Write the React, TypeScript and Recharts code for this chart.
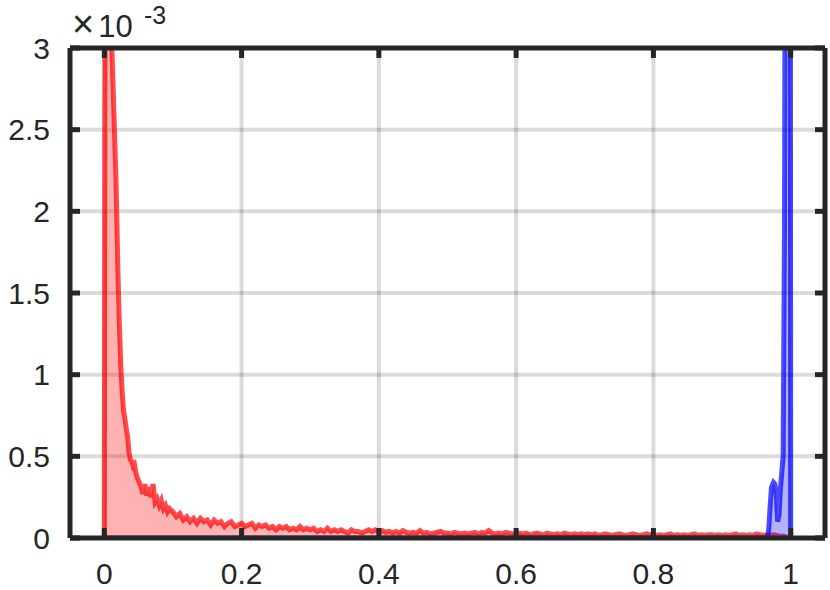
import React from 'react';
import { ComposedChart, Area, XAxis, YAxis, CartesianGrid, ReferenceLine } from 'recharts';

// values in units of 1e-3
const redHeadX = [0, 0.002, 0.005, 0.008, 0.011, 0.014, 0.017, 0.02, 0.022, 0.024, 0.026, 0.028, 0.03, 0.032, 0.034, 0.036, 0.038, 0.04, 0.042, 0.044, 0.046, 0.048, 0.05, 0.053, 0.056, 0.059, 0.062, 0.065, 0.068, 0.071, 0.074, 0.077, 0.08, 0.083, 0.086, 0.089, 0.092, 0.095];
const redHeadY = [0, 6.5, 5.8, 4.2, 3.0, 2.6, 2.2, 1.6, 1.3, 1.05, 0.9, 0.78, 0.73, 0.67, 0.62, 0.52, 0.48, 0.47, 0.44, 0.45, 0.4, 0.37, 0.35, 0.32, 0.27, 0.33, 0.26, 0.31, 0.25, 0.33, 0.22, 0.24, 0.2, 0.23, 0.18, 0.2, 0.16, 0.18];

const redTailStart = 0.1;
const redTailStep = 0.005;
const redTailY = [
  0.16, 0.13, 0.15, 0.11, 0.13, 0.10, 0.12, 0.09, 0.12, 0.10, 0.11, 0.08, 0.11, 0.09, 0.10, 0.07, 0.09, 0.10, 0.07, 0.08,
  0.09, 0.07, 0.08, 0.09, 0.06, 0.08, 0.07, 0.08, 0.06, 0.07, 0.05, 0.07, 0.06, 0.07, 0.05, 0.06, 0.05, 0.07, 0.05, 0.06,
  0.05, 0.06, 0.04, 0.05, 0.04, 0.06, 0.04, 0.05, 0.04, 0.05, 0.04, 0.03, 0.05, 0.04, 0.04, 0.03, 0.04, 0.05, 0.04, 0.05,
  0.04, 0.045, 0.035, 0.04, 0.03, 0.04, 0.03, 0.045, 0.035, 0.03, 0.035, 0.03, 0.045, 0.03, 0.035, 0.025, 0.03, 0.035, 0.04, 0.03,
  0.03, 0.025, 0.035, 0.03, 0.025, 0.03, 0.025, 0.03, 0.035, 0.025, 0.035, 0.03, 0.045, 0.03, 0.025, 0.03, 0.025, 0.035, 0.03, 0.025,
  0.02, 0.03, 0.025, 0.03, 0.02, 0.025, 0.03, 0.025, 0.02, 0.03, 0.025, 0.02, 0.025, 0.02, 0.03, 0.025, 0.02, 0.025, 0.02, 0.025,
  0.02, 0.025, 0.02, 0.025, 0.015, 0.02, 0.025, 0.02, 0.015, 0.02, 0.025, 0.02, 0.015, 0.02, 0.025, 0.02, 0.015, 0.02, 0.025, 0.02,
  0.02, 0.015, 0.02, 0.015, 0.02, 0.025, 0.015, 0.02, 0.015, 0.02, 0.015, 0.02, 0.025, 0.015, 0.02, 0.015, 0.02, 0.02, 0.015, 0.02,
  0.015, 0.02, 0.015, 0.02, 0.025, 0.015, 0.02, 0.015, 0.02, 0.015, 0.025, 0.02, 0.015, 0.02, 0.015, 0.02, 0.015, 0.01, 0.01, 0.005,
];

const blueX = [0, 0.966, 0.968, 0.97, 0.972, 0.975, 0.977, 0.979, 0.981, 0.983, 0.985, 0.987, 0.989, 0.991, 0.993, 0.996, 0.999, 1.0];
const blueY = [0, 0, 0.05, 0.19, 0.31, 0.34, 0.33, 0.27, 0.1, 0.14, 0.3, 0.4, 0.5, 1.9, 6, 8, 8, 0];

const xTicks = [0, 0.2, 0.4, 0.6, 0.8, 1];
const yTicks = [0, 0.5, 1, 1.5, 2, 2.5, 3];
const xTickLabels = ['0', '0.2', '0.4', '0.6', '0.8', '1'];
const yTickLabels = ['0', '0.5', '1', '1.5', '2', '2.5', '3'];

const X_DOMAIN: [number, number] = [-0.05, 1.05];
const Y_DOMAIN: [number, number] = [0, 3];
// inward tick length expressed in axis units (~10 px)
const TICK_DX = 0.0146;
const TICK_DY = 0.061;

const redData = [
  ...redHeadX.map((x, i) => ({ x, y: redHeadY[i] })),
  ...redTailY.map((y, i) => ({ x: +(redTailStart + i * redTailStep).toFixed(4), y })),
];
const blueData = blueX.map((x, i) => ({ x, y: blueY[i] }));

const FONT = '"Liberation Sans", Arial, Helvetica, sans-serif';
const INK = '#262626';

export default function App() {
  return (
    <div style={{ position: 'absolute', left: 0, top: 0, width: 830, height: 590, background: '#fff' }}>
      <ComposedChart
        width={830}
        height={590}
        margin={{ top: 47, right: 4, bottom: 0, left: 0 }}
      >
        <Area
          data={redData}
          dataKey="y"
          type="linear"
          stroke="#ff0000"
          strokeOpacity={0.7}
          strokeWidth={5}
          fill="#ff0000"
          fillOpacity={0.3}
          dot={false}
          activeDot={false}
          isAnimationActive={false}
          baseValue={0}
        />
        <Area
          data={blueData}
          dataKey="y"
          type="linear"
          stroke="#0000ff"
          strokeOpacity={0.7}
          strokeWidth={5}
          fill="#0000ff"
          fillOpacity={0.3}
          dot={false}
          activeDot={false}
          isAnimationActive={false}
          baseValue={0}
        />
        <CartesianGrid
          stroke="#000000"
          strokeOpacity={0.14}
          strokeWidth={4}
          horizontalValues={yTicks}
          verticalValues={xTicks}
        />
        {yTicks.map((v) => (
          <ReferenceLine
            key={`r${v}`}
            segment={[{ x: X_DOMAIN[1] - TICK_DX, y: v }, { x: X_DOMAIN[1], y: v }]}
            stroke={INK}
            strokeWidth={5}
          />
        ))}
        {xTicks.map((v) => (
          <ReferenceLine
            key={`t${v}`}
            segment={[{ x: v, y: Y_DOMAIN[1] }, { x: v, y: Y_DOMAIN[1] - TICK_DY }]}
            stroke={INK}
            strokeWidth={5}
          />
        ))}
        <XAxis
          dataKey="x"
          type="number"
          domain={X_DOMAIN}
          ticks={xTicks}
          allowDataOverflow
          height={52}
          tickSize={-10}
          tickMargin={35}
          tickFormatter={(v: number) => xTickLabels[xTicks.indexOf(v)] ?? String(v)}
          axisLine={{ stroke: INK, strokeWidth: 5 }}
          tickLine={{ stroke: INK, strokeWidth: 5 }}
          tick={{ fill: INK, fontSize: 30, fontFamily: FONT }}
        />
        <XAxis
          xAxisId="top"
          orientation="top"
          dataKey="x"
          type="number"
          domain={X_DOMAIN}
          ticks={xTicks}
          allowDataOverflow
          height={1}
          tickLine={false}
          axisLine={{ stroke: INK, strokeWidth: 5 }}
          tick={false}
        />
        <YAxis
          type="number"
          domain={Y_DOMAIN}
          ticks={yTicks}
          allowDataOverflow
          width={70}
          tickSize={-10}
          tickMargin={30}
          tickFormatter={(v: number) => yTickLabels[yTicks.indexOf(v)] ?? String(v)}
          axisLine={{ stroke: INK, strokeWidth: 5 }}
          tickLine={{ stroke: INK, strokeWidth: 5 }}
          tick={{ fill: INK, fontSize: 30, fontFamily: FONT }}
        />
        <YAxis
          yAxisId="right"
          orientation="right"
          type="number"
          domain={Y_DOMAIN}
          ticks={yTicks}
          allowDataOverflow
          width={1}
          tickLine={false}
          axisLine={{ stroke: INK, strokeWidth: 5 }}
          tick={false}
        />
      </ComposedChart>
      <svg
        width={830}
        height={60}
        style={{ position: 'absolute', left: 0, top: 0, pointerEvents: 'none' }}
      >
        <text x={72} y={37} fill={INK} fontSize={31} fontFamily={FONT}>
          <tspan fontSize={38}>×</tspan>
          <tspan dx={4}>10</tspan>
        </text>
        <text x={144} y={24} fill={INK} fontSize={25} fontFamily={FONT}>-3</text>
      </svg>
    </div>
  );
}
